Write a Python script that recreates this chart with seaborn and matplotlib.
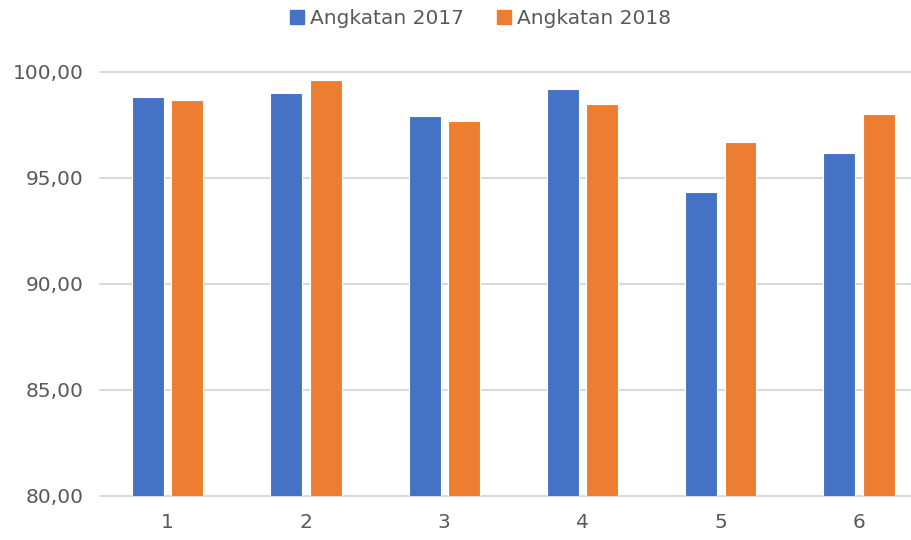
import pandas as pd
import matplotlib.pyplot as plt
import seaborn as sns

# Data
categories = ['1', '2', '3', '4', '5', '6']
angkatan_2017 = [98.81, 98.99, 97.94, 99.18, 94.34, 96.16]
angkatan_2018 = [98.69, 99.64, 97.67, 98.51, 96.68, 98.00]
series_names = ['Angkatan 2017', 'Angkatan 2018']
y_ticks = [80, 85, 90, 95, 100]

df = pd.DataFrame({
    'kategori': categories * 2,
    'nilai': angkatan_2017 + angkatan_2018,
    'angkatan': [series_names[0]] * len(categories) + [series_names[1]] * len(categories),
})

sns.set_style('white')
plt.rcParams['font.family'] = ['DejaVu Sans']

fig = plt.figure(figsize=(9.12, 5.4), dpi=100)
ax = fig.add_axes([100 / 912, 44 / 540, 812 / 912, 424 / 540])

colors = ['#4472C4', '#ED7D31']
sns.barplot(data=df, x='kategori', y='nilai', hue='angkatan', palette=colors,
            saturation=1, width=0.57, gap=0.19, edgecolor='white', linewidth=0.8,
            ax=ax, zorder=3)

ax.set_ylim(80, 100)
ax.set_xlim(-0.49, 5.383)
ax.set_yticks(y_ticks)
ax.set_yticklabels([f"{v:.2f}".replace('.', ',') for v in y_ticks])
ax.grid(axis='y', color='#d9d9d9', linewidth=1.5, zorder=0)
for gl in ax.yaxis.get_gridlines():
    gl.set_clip_on(False)
ax.set_axisbelow(True)
ax.set_xlabel('')
ax.set_ylabel('')
ax.tick_params(axis='both', length=0, labelsize=14.5, labelcolor='#595959')
ax.tick_params(axis='y', pad=12)
ax.tick_params(axis='x', pad=12)
sns.despine(ax=ax, left=True, bottom=True, top=True, right=True)

ax.legend_.remove()
handles = [plt.Rectangle((0, 0), 1, 1, color=c) for c in colors]
fig.legend(handles, series_names, loc='center', bbox_to_anchor=(0.527, 0.965),
           ncol=2, frameon=False, fontsize=14.5, labelcolor='#595959',
           handlelength=0.7, handleheight=0.7, handletextpad=0.3, columnspacing=1.6)

plt.savefig('out.png', dpi=100)
